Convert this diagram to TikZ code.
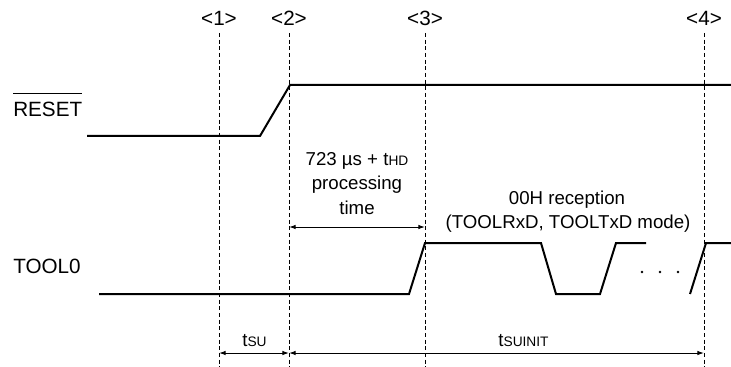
\documentclass[tikz,border=0pt]{standalone}
\usepackage{fontspec}
\setmainfont{Liberation Sans}
\usetikzlibrary{arrows.meta}
\newcommand\tsub[1]{{\fontsize{10.3}{12}\selectfont #1}}
\begin{document}
\begin{tikzpicture}[x=0.75pt,y=-0.75pt,
  sig/.style={line width=1.5pt, line join=miter},
  guide/.style={line width=0.75pt, dash pattern=on 3pt off 2pt},
  dim/.style={line width=0.75pt, {Latex[length=5pt,width=3.4pt]}-{Latex[length=5pt,width=3.4pt]}},
  lab/.style={font=\fontsize{15.5}{18}\selectfont, inner sep=0pt, anchor=base},
  ann/.style={font=\fontsize{14}{18}\selectfont, inner sep=0pt, anchor=base},
]
\useasboundingbox (0,0) rectangle (731,367);
% guide lines and markers
\foreach \n/\x in {1/219,2/289,3/425,4/704} {
  \node[lab] (m\n) at (\x,26) {<\n>};
  \coordinate (gt\n) at (\x,33);
  \coordinate (gb\n) at (\x,367);
  \draw[guide] (gt\n) -- (gb\n);
}
% RESET signal
\node[lab, anchor=base west] (reset) at (13,117) {RESET};
\draw[line width=0.75pt] (reset.west |- 0,94) -- (reset.east |- 0,94);
\draw[sig] (87,136) -- (260,136) -- (290,85) -- (731,85);
% TOOL0 signal
\node[lab, anchor=base west] (tool) at (13,273) {TOOL0};
\draw[sig] (99,294) -- (409,294) -- (425,243) -- (541,243) -- (556,294) -- (600,294) -- (616,243) -- (646,243);
\draw[sig] (690,294) -- (706,243) -- (731,243);
\foreach \x in {642,660,678} \fill (\x,272) circle (1.1pt);
% annotation 723 us
\node[ann] (a1) at (357,166) {723 µs + t\tsub{HD}};
\node[ann] (a2) at (357,190) {processing};
\node[ann] (a3) at (357,214) {time};
\coordinate (d2a) at (289,227);
\coordinate (d3a) at (425,227);
\draw[dim] (d2a) -- (d3a);
% 00H reception
\node[ann] (r1) at (567,204) {00H reception};
\node[ann] (r2) at (568,228) {(TOOLRxD, TOOLTxD mode)};
% bottom dimensions
\node[ann] (tsu) at (254.5,346) {t\tsub{SU}};
\node[ann] (tsuinit) at (523.5,346) {t\tsub{SUINIT}};
\coordinate (b1) at (219,353);
\coordinate (b2) at (289,353);
\coordinate (b4) at (704,353);
\draw[dim] (b1) -- (b2);
\draw[dim] (b2) -- (b4);
\end{tikzpicture}
\end{document}
